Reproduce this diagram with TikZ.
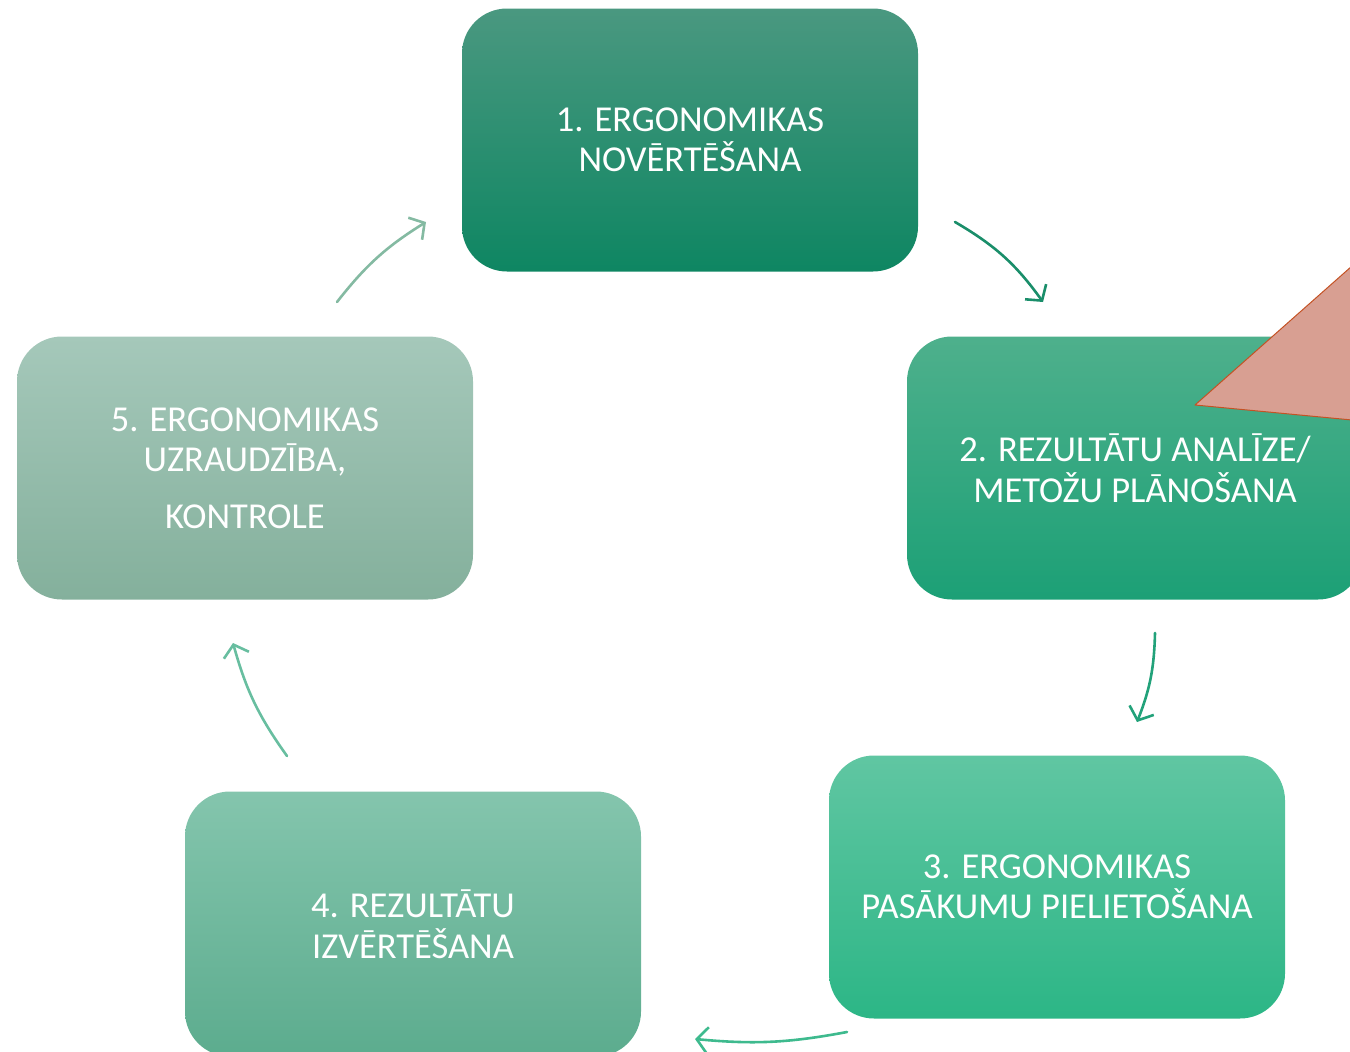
\documentclass[tikz,border=0pt]{standalone}
\usepackage{fontspec}
\setmainfont{Carlito}
\usetikzlibrary{arrows.meta}
\definecolor{bAt}{RGB}{74,152,128}
\definecolor{bAb}{RGB}{14,134,98}
\definecolor{bBt}{RGB}{78,176,140}
\definecolor{bBb}{RGB}{28,160,118}
\definecolor{bCt}{RGB}{96,198,162}
\definecolor{bCb}{RGB}{44,182,134}
\definecolor{bDt}{RGB}{132,197,173}
\definecolor{bDb}{RGB}{92,172,142}
\definecolor{bEt}{RGB}{165,200,186}
\definecolor{bEb}{RGB}{132,176,156}
\definecolor{aA}{RGB}{26,142,106}
\definecolor{aB}{RGB}{34,162,122}
\definecolor{aC}{RGB}{62,186,142}
\definecolor{aD}{RGB}{104,190,160}
\definecolor{aE}{RGB}{132,186,162}
\definecolor{triF}{RGB}{216,159,146}
\definecolor{triD}{RGB}{196,82,36}
\begin{document}
\begin{tikzpicture}[x=1pt,y=-1pt,
  box/.style={rounded corners=45pt, minimum width=456pt, minimum height=263pt,
    text=white, align=center, font=\fontsize{36.5}{40.5}\selectfont, inner sep=0pt},
  flow/.style={line width=2.6pt, line cap=round,
    -{Straight Barb[length=11pt,width=26pt,line width=2.6pt]}}]
\useasboundingbox (0,0) rectangle (1350,1052);
\clip (0,0) rectangle (1350,1052);
\node[box, top color=bAt, bottom color=bAb] (b1) at (690,140) {1. ERGONOMIKAS\\NOVĒRTĒŠANA};
\node[box, top color=bBt, bottom color=bBb] (b2) at (1135,468) {2. REZULTĀTU ANALĪZE/\\METOŽU PLĀNOŠANA};
\node[box, top color=bCt, bottom color=bCb] (b3) at (1057,887) {3. ERGONOMIKAS\\PASĀKUMU PIELIETOŠANA};
\node[box, top color=bDt, bottom color=bDb, minimum height=265pt] (b4) at (413,924) {4. REZULTĀTU\\IZVĒRTĒŠANA};
\node[box, top color=bEt, bottom color=bEb] (b5) at (245,468) {5. ERGONOMIKAS\\UZRAUDZĪBA,\\[16pt]KONTROLE};
\coordinate (t1) at (1352,266);
\coordinate (t2) at (1195,405);
\coordinate (t3) at (1352,420);
\filldraw[fill=triF, draw=triD, line width=1pt, line join=round] (t1) -- (t2) -- (t3) -- cycle;
\coordinate (s12) at (955,222);
\coordinate (e12) at (1043,302);
\coordinate (s23) at (1155,633);
\coordinate (e23) at (1137,722);
\coordinate (s34) at (847,1032);
\coordinate (e34) at (695,1039);
\coordinate (s45) at (287,756);
\coordinate (e45) at (233,643);
\coordinate (s51) at (337,302);
\coordinate (e51) at (426,222);
\draw[flow, aA] (s12) to[bend left=12] (e12);
\draw[flow, aB] (s23) to[bend left=10] (e23);
\draw[flow, aC] (s34) to[bend left=8] (e34);
\draw[flow, aD] (s45) to[bend left=10] (e45);
\draw[flow, aE] (s51) to[bend left=10] (e51);
\end{tikzpicture}
\end{document}
